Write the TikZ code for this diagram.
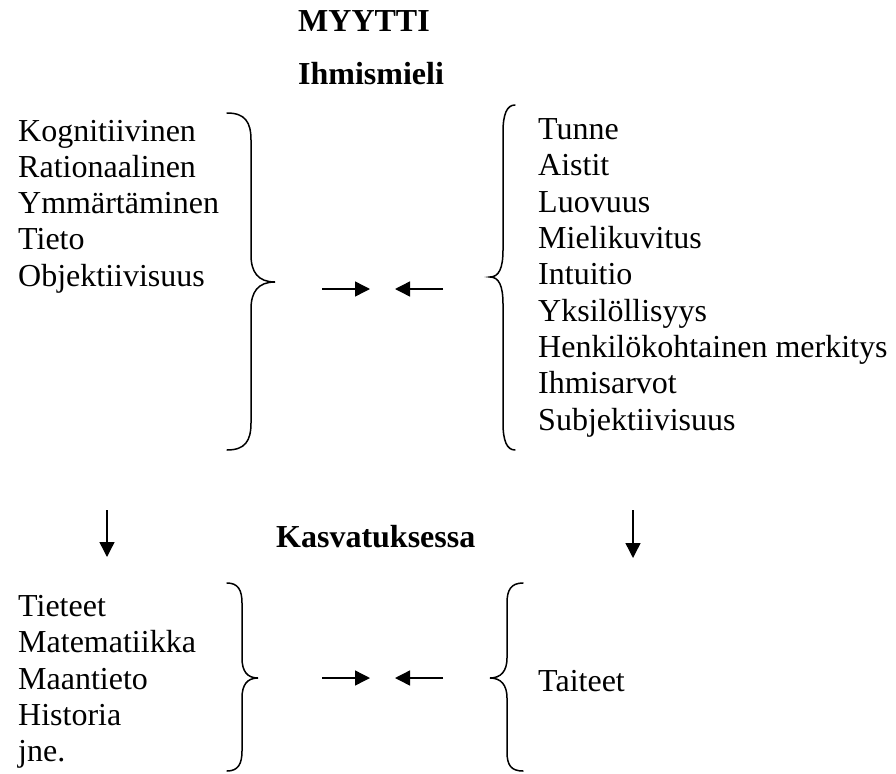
\documentclass[tikz,border=0pt]{standalone}
\usepackage{fontspec}
\setmainfont{Liberation Serif}
\usetikzlibrary{arrows.meta, positioning}

\begin{document}
\begin{tikzpicture}[
  x=1pt, y=-1pt,
  heading/.style={inner sep=0pt, anchor=base west, font=\fontsize{32}{36.3}\selectfont\bfseries},
  itemlist/.style={inner sep=0pt, anchor=base west, align=left, font=\fontsize{32}{36.3}\selectfont},
  brc/.style={line width=1.5pt, line cap=round},
  arr/.style={-{Triangle[length=15pt, width=15pt]}, line width=1.4pt},
]
\useasboundingbox (0,0) rectangle (896,773);

% Headings
\node[heading] (myytti) at (298,31.7) {MYYTTI};
\node[heading] (mieli) at (298,85) {Ihmismieli};
\node[heading] (kasvatus) at (276,547) {Kasvatuksessa};

% Upper lists (placed by the baseline of their last line)
\node[itemlist] (rational) at (18,286.2) {Kognitiivinen\\Rationaalinen\\Ymmärtäminen\\Tieto\\Objektiivisuus};
\node[itemlist] (tunne) at (538,430) {Tunne\\Aistit\\Luovuus\\Mielikuvitus\\Intuitio\\Yksilöllisyys\\Henkilökohtainen merkitys\\Ihmisarvot\\Subjektiivisuus};

% Lower lists
\node[itemlist] (tieteet) at (18,761.7) {Tieteet\\Matematiikka\\Maantieto\\Historia\\jne.};
\node[itemlist] (taiteet) at (538,691.7) {Taiteet};

% Braces
\draw[brc] (227,113) .. controls (245,113) and (251,122) .. (251,140) -- (251,255)
  .. controls (251,272) and (258,282) .. (275,282) .. controls (258,282) and (251,292) .. (251,309)
  -- (251,423) .. controls (251,441) and (245,450) .. (227,450);
\draw[brc] (515,105) .. controls (507,105) and (503,114) .. (503,132) -- (503,250)
  .. controls (503,268) and (499,277) .. (490,277) .. controls (499,277) and (503,286) .. (503,304)
  -- (503,423) .. controls (503,441) and (507,450) .. (515,450);
\draw[brc] (227,583) .. controls (238,583) and (242,590) .. (242,603) -- (242,658)
  .. controls (242,671) and (247,678) .. (258,678) .. controls (247,678) and (242,685) .. (242,698)
  -- (242,751) .. controls (242,764) and (238,771) .. (227,771);
\draw[brc] (523,583) .. controls (511,583) and (507,590) .. (507,603) -- (507,658)
  .. controls (507,671) and (501,678) .. (490,678) .. controls (501,678) and (507,685) .. (507,698)
  -- (507,752) .. controls (507,765) and (511,771) .. (523,771);

% Arrow ends
\coordinate (ua1) at (322,289);
\coordinate (ua2) at (370,289);
\coordinate (ub1) at (443,289);
\coordinate (ub2) at (395,289);
\coordinate (la1) at (322,678);
\coordinate (la2) at (370,678);
\coordinate (lb1) at (443,678);
\coordinate (lb2) at (395,678);
\coordinate (dl1) at (107,510);
\coordinate (dl2) at (107,557);
\coordinate (dr1) at (633,510);
\coordinate (dr2) at (633,558);

% Arrows
\draw[arr] (ua1) -- (ua2);
\draw[arr] (ub1) -- (ub2);
\draw[arr] (la1) -- (la2);
\draw[arr] (lb1) -- (lb2);
\draw[arr] (dl1) -- (dl2);
\draw[arr] (dr1) -- (dr2);

\end{tikzpicture}
\end{document}
